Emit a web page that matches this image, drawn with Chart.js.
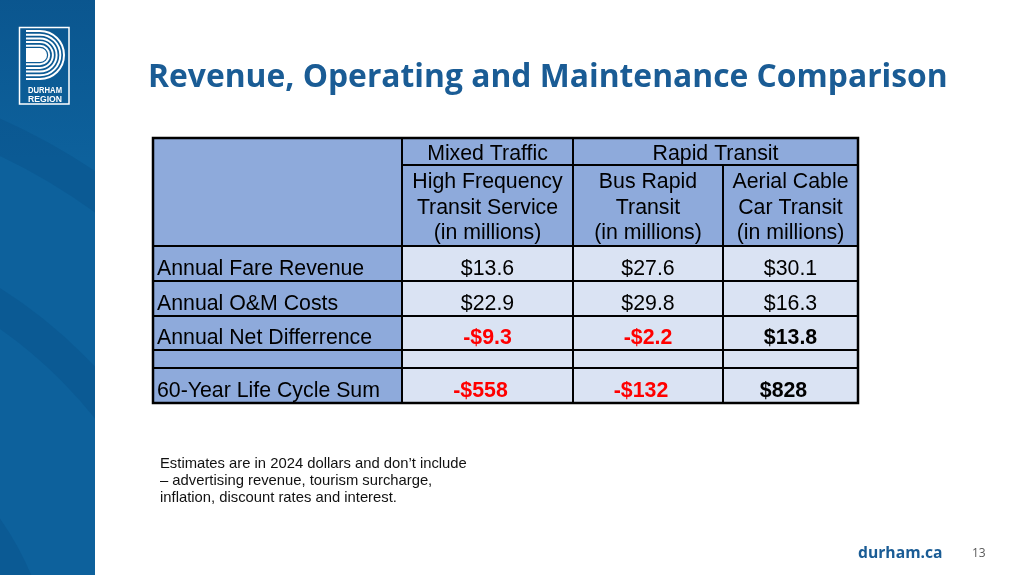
<!DOCTYPE html>
<html>
<head>
<meta charset="utf-8">
<script src="https://cdn.jsdelivr.net/npm/chart.js@4.4.1/dist/chart.umd.min.js"></script>
<style>
  html, body { margin: 0; padding: 0; background: #fff; overflow: hidden; }
  canvas { display: block; }
</style>
</head>
<body>
<canvas id="slideChart" width="1022" height="575"></canvas>
<script>
// table content
var rowLabels = ["Annual Fare Revenue", "Annual O&M Costs", "Annual Net Differrence", "", "60-Year Life Cycle Sum"];
var groupLabels = ["Mixed Traffic", "Rapid Transit"];
var groupSpans = [1, 2];
var columnLabels = [
  ["High Frequency", "Transit Service", "(in millions)"],
  ["Bus Rapid", "Transit", "(in millions)"],
  ["Aerial Cable", "Car Transit", "(in millions)"],
];
var highFrequency = [13.6, 22.9, -9.3, null, -558];
var busRapid = [27.6, 29.8, -2.2, null, -132];
var aerialCable = [30.1, 16.3, 13.8, null, 828];
var seriesValues = [highFrequency, busRapid, aerialCable];
var rowDecimals = [1, 1, 1, 0, 0];
var boldRows = [false, false, true, false, true];

var slideTitle = "Revenue, Operating and Maintenance Comparison";
var noteLines = [
  "Estimates are in 2024 dollars and don\u2019t include",
  "\u2013 advertising revenue, tourism surcharge,",
  "inflation, discount rates and interest.",
];
var footerSite = "durham.ca";
var pageNumber = "13";

// layout (table units, mapped through the chart scales)
var colWidths = [249, 171, 150, 135];
var rowHeights = [27, 81, 35, 35, 34, 18, 35];
var rowNudge = [0, 0, 0, 0, -7];
var tableFont = "21.3px 'Liberation Sans', Arial, sans-serif";

function edges(sizes) {
  var out = [0];
  for (var i = 0; i < sizes.length; i++) out.push(out[i] + sizes[i]);
  return out;
}
var colEdges = edges(colWidths);
var rowEdges = edges(rowHeights);

var headerBlue = "#8eaadb";
var cellBlue = "#dae3f3";
var brandBlue = "#1a5c95";
var sideBlue = "#0d619c";

function formatValue(v, row) {
  var s = "$" + Math.abs(v).toFixed(rowDecimals[row]);
  return v < 0 ? "-" + s : s;
}

var slideBackground = {
  id: "slideBackground",
  beforeDraw: function (chart) {
    var c = chart.ctx;
    c.save();
    c.fillStyle = "#ffffff";
    c.fillRect(0, 0, chart.width, chart.height);

    // side band
    c.fillStyle = sideBlue;
    c.fillRect(0, 0, 95, chart.height);
    c.save();
    c.beginPath();
    c.rect(0, 0, 95, chart.height);
    c.clip();
    c.strokeStyle = "rgba(6,70,125,0.22)";
    c.lineWidth = 34;
    [620, 470, 300].forEach(function (r) {
      c.beginPath();
      c.arc(-260, 700, r, 0, Math.PI * 2);
      c.stroke();
    });
    var g = c.createLinearGradient(0, 0, 0, 160);
    g.addColorStop(0, "rgba(8,75,130,0.5)");
    g.addColorStop(1, "rgba(8,75,130,0)");
    c.fillStyle = g;
    c.fillRect(0, 0, 95, 160);
    c.restore();
    c.fillStyle = "rgba(255,255,255,0.2)";
    c.fillRect(95, 0, 2, chart.height);

    // logo
    c.strokeStyle = "#ffffff";
    c.lineWidth = 1.5;
    c.strokeRect(19.5, 27.5, 49.5, 76.5);
    c.lineWidth = 2;
    for (var i = 0; i < 5; i++) {
      var t = 31 + i * 3.7;
      var b = 79 - i * 3.7;
      var r = (b - t) / 2;
      c.beginPath();
      c.moveTo(26, t);
      c.lineTo(40, t);
      c.arc(40, (t + b) / 2, r, -Math.PI / 2, Math.PI / 2);
      c.lineTo(26, b);
      c.stroke();
    }
    c.fillStyle = "#ffffff";
    c.beginPath();
    c.moveTo(26, 48);
    c.lineTo(40, 48);
    c.arc(40, 55, 7, -Math.PI / 2, Math.PI / 2);
    c.lineTo(26, 62);
    c.closePath();
    c.fill();
    c.font = "bold 9.5px 'Liberation Sans', Arial, sans-serif";
    c.textAlign = "left";
    c.textBaseline = "alphabetic";
    ["DURHAM", "REGION"].forEach(function (word, i) {
      var ww = c.measureText(word).width;
      c.save();
      c.translate(28, 92.5 + i * 9.5);
      c.scale(34 / ww, 1);
      c.fillText(word, 0, 0);
      c.restore();
    });

    // title
    c.fillStyle = brandBlue;
    c.textAlign = "left";
    c.font = "bold 32px 'Open Sans', sans-serif";
    var w = c.measureText(slideTitle).width;
    var size = 32 * 800 / w;
    c.font = "bold " + size.toFixed(2) + "px 'Open Sans', sans-serif";
    c.fillText(slideTitle, 148, 87);

    // note
    c.fillStyle = "#111111";
    c.font = "14.8px 'Liberation Sans', Arial, sans-serif";
    noteLines.forEach(function (line, i) {
      c.fillText(line, 160, 468 + i * 17);
    });

    // footer
    c.fillStyle = brandBlue;
    c.font = "bold 15.7px 'Open Sans', sans-serif";
    c.fillText(footerSite, 858, 558);
    c.fillStyle = "#595959";
    c.font = "12px 'Open Sans', sans-serif";
    c.fillText(pageNumber, 972, 557);
    c.restore();
  },
};

var tableGrid = {
  id: "tableGrid",
  beforeDatasetsDraw: function (chart) {
    var c = chart.ctx;
    var xs = chart.scales.x;
    var ys = chart.scales.y;
    var X = function (v) { return xs.getPixelForValue(v); };
    var Y = function (v) { return ys.getPixelForValue(v); };
    c.save();

    // fills
    for (var r = 0; r < rowHeights.length; r++) {
      for (var k = 0; k < colWidths.length; k++) {
        c.fillStyle = (k === 0 || r < 2) ? headerBlue : cellBlue;
        c.fillRect(X(colEdges[k]), Y(rowEdges[r]), X(colEdges[k + 1]) - X(colEdges[k]), Y(rowEdges[r + 1]) - Y(rowEdges[r]));
      }
    }

    // lines
    c.strokeStyle = "#000000";
    c.lineWidth = 2;
    function hLine(y, x0, x1) {
      c.beginPath(); c.moveTo(X(x0), Y(y)); c.lineTo(X(x1), Y(y)); c.stroke();
    }
    function vLine(x, y0, y1) {
      c.beginPath(); c.moveTo(X(x), Y(y0)); c.lineTo(X(x), Y(y1)); c.stroke();
    }
    var right = colEdges[colEdges.length - 1];
    var bottom = rowEdges[rowEdges.length - 1];
    hLine(rowEdges[1], colEdges[1], right);
    for (var e = 2; e < rowEdges.length - 1; e++) hLine(rowEdges[e], 0, right);
    vLine(colEdges[1], 0, bottom);
    var gx = colEdges[1];
    groupSpans.forEach(function (span, gi) {
      var startIdx = colEdges.indexOf(gx);
      for (var s = 1; s < span; s++) vLine(colEdges[startIdx + s], rowEdges[1], bottom);
      gx = colEdges[startIdx + span];
      if (gi < groupSpans.length - 1) vLine(gx, 0, bottom);
    });
    c.lineWidth = 2.5;
    c.strokeRect(X(0), Y(0), X(right) - X(0), Y(bottom) - Y(0));

    // header text
    c.fillStyle = "#000000";
    c.textAlign = "center";
    c.textBaseline = "alphabetic";
    c.font = tableFont;
    var ci = 1;
    groupLabels.forEach(function (label, gi) {
      var x0 = colEdges[ci];
      var x1 = colEdges[ci + groupSpans[gi]];
      c.fillText(label, (X(x0) + X(x1)) / 2, Y(rowEdges[1]) - 5);
      ci += groupSpans[gi];
    });
    columnLabels.forEach(function (lines, k) {
      var cx = (X(colEdges[k + 1]) + X(colEdges[k + 2])) / 2;
      lines.forEach(function (line, li) {
        c.fillText(line, cx, Y(rowEdges[1]) + 23 + li * 25.5);
      });
    });

    // row labels
    c.textAlign = "left";
    rowLabels.forEach(function (label, r) {
      c.fillText(label, X(0) + 4, Y(rowEdges[r + 3]) - 6);
    });
    c.restore();
  },
};

var cellText = {
  id: "cellText",
  afterDatasetsDraw: function (chart) {
    var c = chart.ctx;
    var ys = chart.scales.y;
    c.save();
    c.textAlign = "center";
    c.textBaseline = "alphabetic";
    chart.data.datasets.forEach(function (ds, di) {
      var meta = chart.getDatasetMeta(di);
      meta.data.forEach(function (pt, i) {
        var d = ds.data[i];
        c.font = (boldRows[d.row] ? "bold " : "") + tableFont;
        c.fillStyle = d.v < 0 ? "#ff0000" : "#000000";
        c.fillText(formatValue(d.v, d.row), pt.x + rowNudge[d.row], ys.getPixelForValue(rowEdges[d.row + 3]) - 6);
      });
    });
    c.restore();
  },
};

var datasets = seriesValues.map(function (values, k) {
  var pts = [];
  values.forEach(function (v, r) {
    if (v === null) return;
    pts.push({
      x: (colEdges[k + 1] + colEdges[k + 2]) / 2,
      y: (rowEdges[r + 2] + rowEdges[r + 3]) / 2,
      v: v,
      row: r,
    });
  });
  return {
    label: columnLabels[k].slice(0, 2).join(" "),
    data: pts,
    pointRadius: 0,
    pointHoverRadius: 0,
  };
});

var canvas = document.getElementById("slideChart");
var ctx = canvas.getContext("2d");
var slideChart = new Chart(ctx, {
  type: "scatter",
  data: { datasets: datasets },
  options: {
    responsive: false,
    animation: false,
    devicePixelRatio: 1,
    layout: { padding: { left: 153, top: 138, right: 164, bottom: 172 } },
    scales: {
      x: { type: "linear", display: false, min: 0, max: colEdges[colEdges.length - 1] },
      y: { type: "linear", display: false, min: 0, max: rowEdges[rowEdges.length - 1], reverse: true },
    },
    plugins: {
      legend: { display: false },
      tooltip: { enabled: false },
    },
  },
  plugins: [slideBackground, tableGrid, cellText],
});
</script>
</body>
</html>
